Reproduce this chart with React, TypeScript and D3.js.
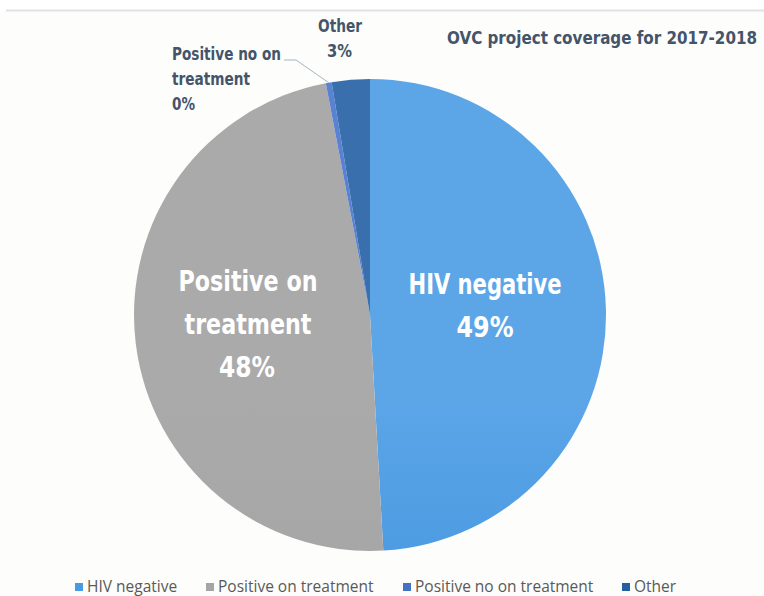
import React from "react";
import * as d3 from "d3";

const categories = ["HIV negative", "Positive on treatment", "Positive no on treatment", "Other"];
const values = [49.1, 47.9, 0.4, 2.6];
const percentLabels = ["49%", "48%", "0%", "3%"];
const title = "OVC project coverage for 2017-2018";
const colorsTop = ["#5ca6e8", "#aaaaaa", "#5a82d2", "#3a6fae"];
const colorsBottom = ["#2f86d6", "#a0a0a0", "#4a72c8", "#1d5ea6"];
const legendColors = ["#4a9ae2", "#a5a5a5", "#4472c4", "#24609f"];

const W = 764;
const H = 596;
const cx = 370;
const cy = 315;
const R = 236;
const boldFont = "'DejaVu Sans Condensed', 'Liberation Sans Narrow', sans-serif";
const labelColor = "#44546a";

export default function App() {
  const pie = d3.pie<number>().sort(null).value((d) => d)(values);
  const arc = d3.arc<d3.PieArcDatum<number>>().innerRadius(0).outerRadius(R);

  const tiny = pie[2];
  const midA = (tiny.startAngle + tiny.endAngle) / 2;
  const ax = cx + Math.sin(midA) * R;
  const ay = cy - Math.cos(midA) * R;

  const legendX = [75, 206, 403, 622];

  return (
    <svg
      width={W}
      height={H}
      style={{ position: "absolute", left: 0, top: 0, background: "#ffffff" }}
    >
      <defs>
        {categories.map((c, i) => (
          <linearGradient
            key={c}
            id={`g${i}`}
            gradientUnits="userSpaceOnUse"
            x1={0}
            y1={cy - R}
            x2={0}
            y2={cy + R}
          >
            <stop offset="0%" stopColor={colorsTop[i]} />
            <stop offset="100%" stopColor={colorsBottom[i]} />
          </linearGradient>
        ))}
      </defs>
      <rect x={0} y={11} width={W} height={H - 11} fill="#fdfdfb" />
      <line x1={6} x2={W} y1={10.5} y2={10.5} stroke="#e2e2e2" strokeWidth={2} />

      <g transform={`translate(${cx},${cy})`}>
        {pie.map((d, i) => (
          <path key={categories[i]} d={arc(d) || ""} fill={`url(#g${i})`} />
        ))}
      </g>

      <polyline
        points={`284,60 296,60 ${ax},${ay}`}
        fill="none"
        stroke="#a6b4c4"
        strokeWidth={1}
      />

      <g fill="#ffffff" fontFamily={boldFont} fontWeight="bold" fontSize={29} textAnchor="middle">
        <text x={485} y={294} textLength={153} lengthAdjust="spacingAndGlyphs">{categories[0]}</text>
        <text x={485} y={337} textLength={57} lengthAdjust="spacingAndGlyphs">{percentLabels[0]}</text>
        <text x={248} y={291} textLength={139} lengthAdjust="spacingAndGlyphs">Positive on</text>
        <text x={248} y={334} textLength={127} lengthAdjust="spacingAndGlyphs">treatment</text>
        <text x={247} y={377} textLength={56} lengthAdjust="spacingAndGlyphs">{percentLabels[1]}</text>
      </g>

      <g fill={labelColor} fontFamily={boldFont} fontWeight="bold" fontSize={18}>
        <text x={172} y={60} textLength={109} lengthAdjust="spacingAndGlyphs">Positive no on</text>
        <text x={172} y={85} textLength={78} lengthAdjust="spacingAndGlyphs">treatment</text>
        <text x={172} y={110} textLength={23} lengthAdjust="spacingAndGlyphs">{percentLabels[2]}</text>
        <text x={318} y={32} textLength={44} lengthAdjust="spacingAndGlyphs">{categories[3]}</text>
        <text x={327} y={57} textLength={25} lengthAdjust="spacingAndGlyphs">{percentLabels[3]}</text>
      </g>

      <text
        x={447}
        y={44}
        fill={labelColor}
        fontFamily={boldFont}
        fontWeight="bold"
        fontSize={17}
        textLength={310}
        lengthAdjust="spacingAndGlyphs"
      >
        {title}
      </text>

      <g fontFamily="'Open Sans', sans-serif" fontSize={15.5} fill="#595959">
        {categories.map((c, i) => (
          <g key={c} transform={`translate(${legendX[i]},0)`}>
            <rect x={0} y={583} width={8} height={8} fill={legendColors[i]} />
            <text x={12} y={592}>{c}</text>
          </g>
        ))}
      </g>
    </svg>
  );
}
